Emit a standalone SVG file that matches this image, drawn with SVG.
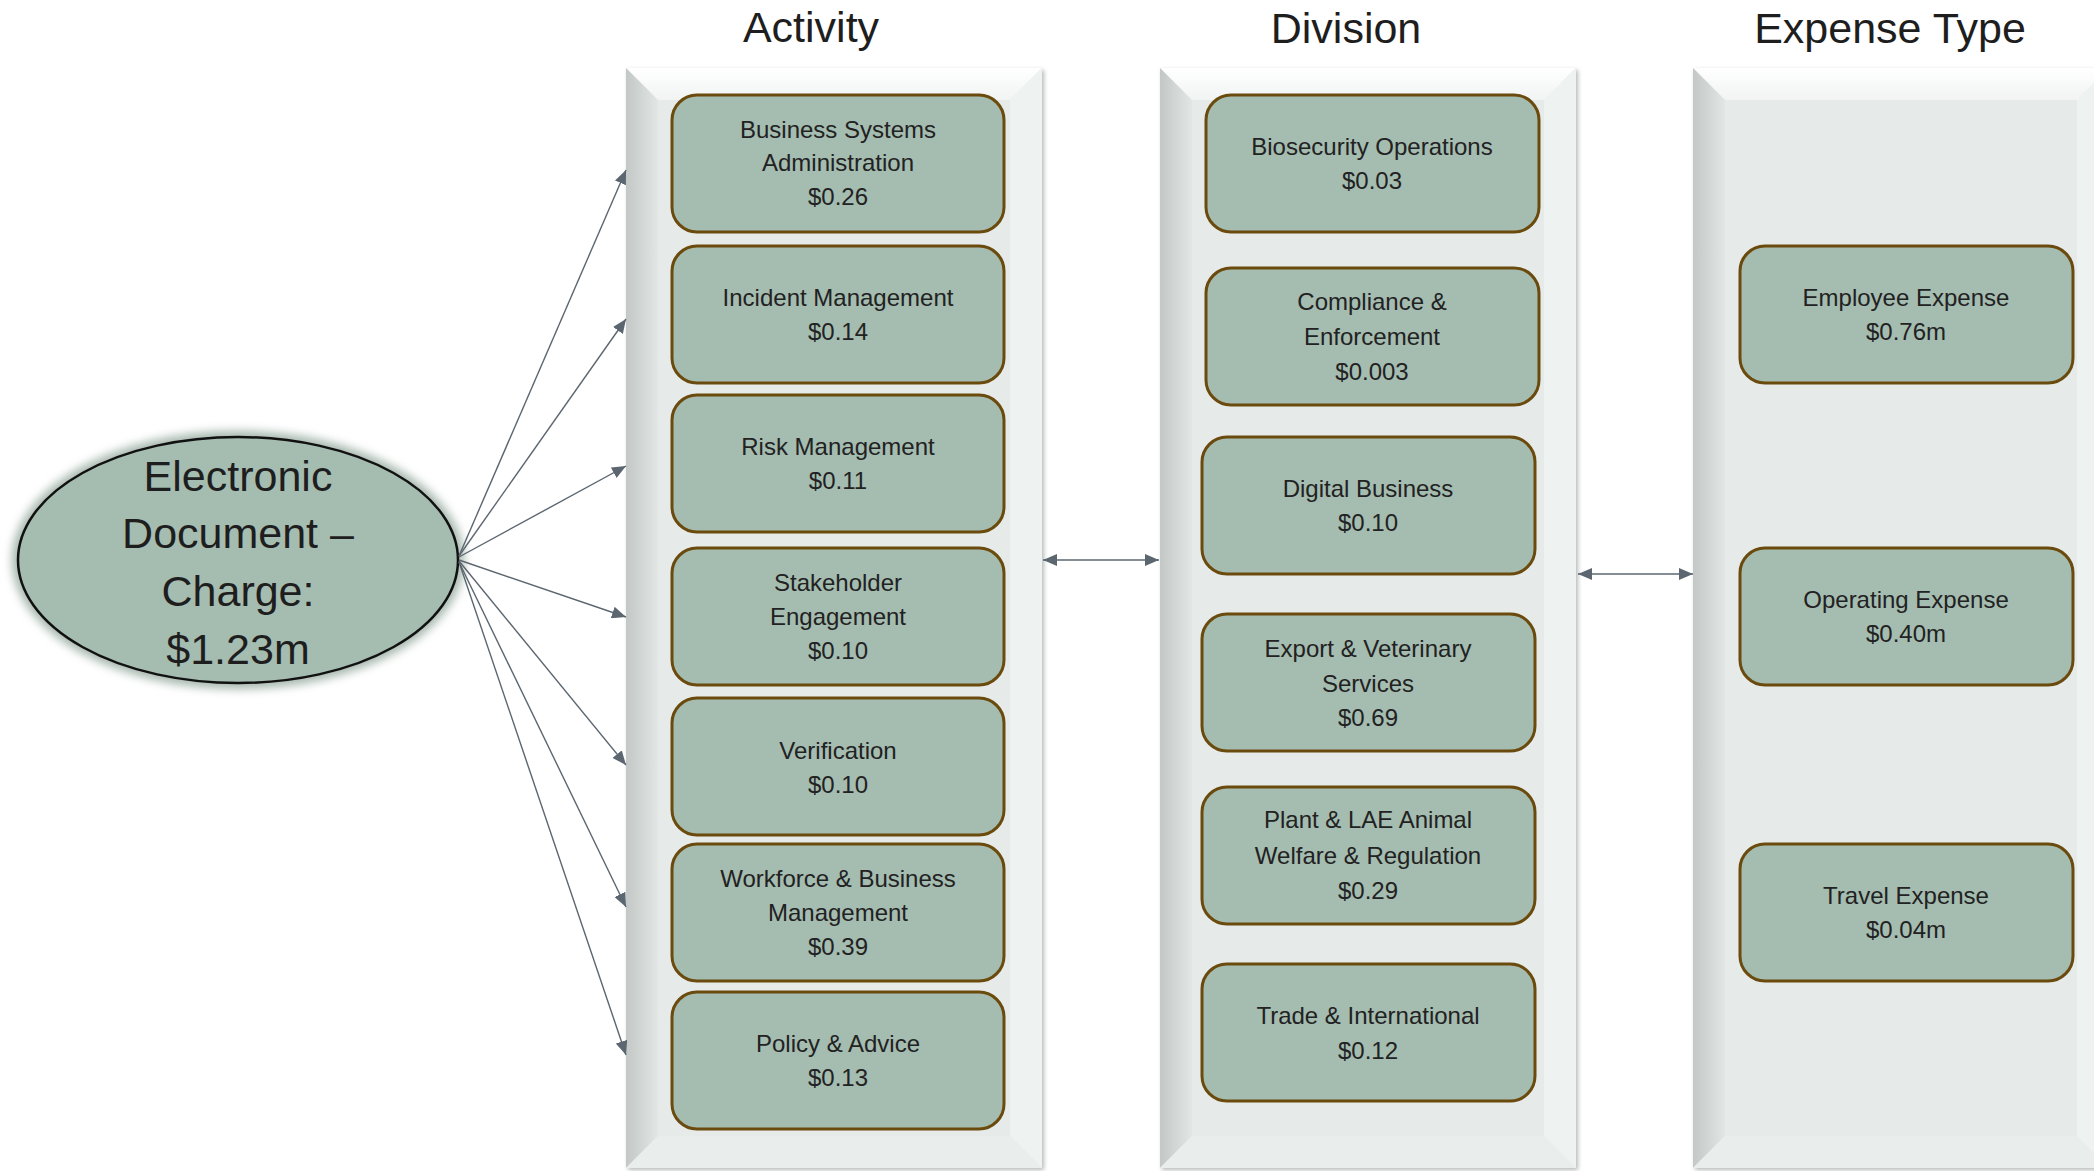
<svg xmlns="http://www.w3.org/2000/svg" width="2094" height="1171" viewBox="0 0 2094 1171">
<defs>
<style>
.hdr{font-family:"Liberation Sans",Arial,sans-serif;font-size:43px;fill:#1e1e1e;text-anchor:middle}
.t{font-family:"Liberation Sans",Arial,sans-serif;font-size:24px;fill:#222;text-anchor:middle}
.big{font-family:"Liberation Sans",Arial,sans-serif;font-size:43px;fill:#1e1e1e;text-anchor:middle}
.box{fill:#a5bcb0;stroke:#6b4a0e;stroke-width:3}
.base{fill:#e6ebe9}
.btop{fill:url(#gTop)}
.bleft{fill:url(#gLeft)}
.bright{fill:#eef2f0}
.bbot{fill:#e9eeec}
.edge{fill:none;stroke:#b9bdbc;stroke-width:2}
.con{stroke:#5b6670;stroke-width:1.4;fill:none}
</style>
<linearGradient id="gTop" x1="0" y1="0" x2="0" y2="1"><stop offset="0" stop-color="#ffffff"/><stop offset="1" stop-color="#f1f4f3"/></linearGradient>
<linearGradient id="gLeft" x1="0" y1="0" x2="1" y2="0"><stop offset="0" stop-color="#c3c8c7"/><stop offset="1" stop-color="#e2e7e5"/></linearGradient>
<marker id="ah" viewBox="0 0 14 12" refX="14" refY="6" markerWidth="14" markerHeight="12" markerUnits="userSpaceOnUse" orient="auto-start-reverse"><path d="M0,0 L14,6 L0,12 Z" fill="#5b6670"/></marker>
<filter id="glow" x="-20%" y="-20%" width="140%" height="140%"><feGaussianBlur stdDeviation="5"/></filter>
<filter id="sh" x="-5%" y="-5%" width="110%" height="110%"><feGaussianBlur stdDeviation="2"/></filter>
</defs>
<rect width="2094" height="1171" fill="#ffffff"/>

<g id="headers">
<text class="hdr" x="811" y="42">Activity</text>
<text class="hdr" x="1346" y="43">Division</text>
<text class="hdr" x="1890" y="43">Expense Type</text>
</g>

<g id="panel-activity">
<rect x="628" y="70" width="416" height="1100" fill="#b5b9b8" filter="url(#sh)"/>
<rect class="base" x="626" y="68" width="416" height="1100"/>
<polygon class="btop" points="626,68 1042,68 1010,100 658,100"/>
<polygon class="bleft" points="626,68 658,100 658,1136 626,1168"/>
<polygon class="bright" points="1042,68 1042,1168 1010,1136 1010,100"/>
<polygon class="bbot" points="626,1168 1042,1168 1010,1136 658,1136"/>
</g>
<g id="panel-division">
<rect x="1162" y="70" width="416" height="1100" fill="#b5b9b8" filter="url(#sh)"/>
<rect class="base" x="1160" y="68" width="416" height="1100"/>
<polygon class="btop" points="1160,68 1576,68 1544,100 1192,100"/>
<polygon class="bleft" points="1160,68 1192,100 1192,1136 1160,1168"/>
<polygon class="bright" points="1576,68 1576,1168 1544,1136 1544,100"/>
<polygon class="bbot" points="1160,1168 1576,1168 1544,1136 1192,1136"/>
</g>
<g id="panel-expense">
<rect x="1695" y="70" width="416" height="1100" fill="#b5b9b8" filter="url(#sh)"/>
<rect class="base" x="1693" y="68" width="416" height="1100"/>
<polygon class="btop" points="1693,68 2109,68 2077,100 1725,100"/>
<polygon class="bleft" points="1693,68 1725,100 1725,1136 1693,1168"/>
<polygon class="bright" points="2109,68 2109,1168 2077,1136 2077,100"/>
<polygon class="bbot" points="1693,1168 2109,1168 2077,1136 1725,1136"/>
</g>

<g id="source">
<ellipse cx="238" cy="560" rx="226" ry="129" fill="#8ea497" opacity="0.8" filter="url(#glow)"/>
<ellipse cx="238" cy="560" rx="220" ry="123" fill="#a5bcb0" stroke="#111" stroke-width="2.5"/>
<text class="big" x="238" y="491">Electronic</text>
<text class="big" x="238" y="548">Document –</text>
<text class="big" x="238" y="606">Charge:</text>
<text class="big" x="238" y="664">$1.23m</text>
</g>

<g id="connectors">
<line class="con" x1="459" y1="556" x2="626" y2="170" marker-end="url(#ah)"/>
<line class="con" x1="459" y1="556" x2="626" y2="319" marker-end="url(#ah)"/>
<line class="con" x1="459" y1="557" x2="626" y2="466" marker-end="url(#ah)"/>
<line class="con" x1="459" y1="560" x2="626" y2="617" marker-end="url(#ah)"/>
<line class="con" x1="459" y1="561" x2="626" y2="765" marker-end="url(#ah)"/>
<line class="con" x1="459" y1="562" x2="626" y2="907" marker-end="url(#ah)"/>
<line class="con" x1="459" y1="562" x2="626" y2="1055" marker-end="url(#ah)"/>
<line class="con" x1="1043" y1="560" x2="1159" y2="560" marker-start="url(#ah)" marker-end="url(#ah)"/>
<line class="con" x1="1578" y1="574" x2="1693" y2="574" marker-start="url(#ah)" marker-end="url(#ah)"/>
</g>

<g id="act-1"><rect class="box" x="672" y="95" width="332" height="137" rx="25"/><text class="t" x="838" y="138">Business Systems</text><text class="t" x="838" y="171">Administration</text><text class="t" x="838" y="205">$0.26</text></g>
<g id="act-2"><rect class="box" x="672" y="246" width="332" height="137" rx="25"/><text class="t" x="838" y="306">Incident Management</text><text class="t" x="838" y="340">$0.14</text></g>
<g id="act-3"><rect class="box" x="672" y="395" width="332" height="137" rx="25"/><text class="t" x="838" y="455">Risk Management</text><text class="t" x="838" y="489">$0.11</text></g>
<g id="act-4"><rect class="box" x="672" y="548" width="332" height="137" rx="25"/><text class="t" x="838" y="591">Stakeholder</text><text class="t" x="838" y="625">Engagement</text><text class="t" x="838" y="659">$0.10</text></g>
<g id="act-5"><rect class="box" x="672" y="698" width="332" height="137" rx="25"/><text class="t" x="838" y="759">Verification</text><text class="t" x="838" y="793">$0.10</text></g>
<g id="act-6"><rect class="box" x="672" y="844" width="332" height="137" rx="25"/><text class="t" x="838" y="887">Workforce &amp; Business</text><text class="t" x="838" y="921">Management</text><text class="t" x="838" y="955">$0.39</text></g>
<g id="act-7"><rect class="box" x="672" y="992" width="332" height="137" rx="25"/><text class="t" x="838" y="1052">Policy &amp; Advice</text><text class="t" x="838" y="1086">$0.13</text></g>

<g id="div-1"><rect class="box" x="1206" y="95" width="333" height="137" rx="25"/><text class="t" x="1372" y="155">Biosecurity Operations</text><text class="t" x="1372" y="189">$0.03</text></g>
<g id="div-2"><rect class="box" x="1206" y="268" width="333" height="137" rx="25"/><text class="t" x="1372" y="310">Compliance &amp;</text><text class="t" x="1372" y="345">Enforcement</text><text class="t" x="1372" y="380">$0.003</text></g>
<g id="div-3"><rect class="box" x="1202" y="437" width="333" height="137" rx="25"/><text class="t" x="1368" y="497">Digital Business</text><text class="t" x="1368" y="531">$0.10</text></g>
<g id="div-4"><rect class="box" x="1202" y="614" width="333" height="137" rx="25"/><text class="t" x="1368" y="657">Export &amp; Veterinary</text><text class="t" x="1368" y="692">Services</text><text class="t" x="1368" y="726">$0.69</text></g>
<g id="div-5"><rect class="box" x="1202" y="787" width="333" height="137" rx="25"/><text class="t" x="1368" y="828">Plant &amp; LAE Animal</text><text class="t" x="1368" y="864">Welfare &amp; Regulation</text><text class="t" x="1368" y="899">$0.29</text></g>
<g id="div-6"><rect class="box" x="1202" y="964" width="333" height="137" rx="25"/><text class="t" x="1368" y="1024">Trade &amp; International</text><text class="t" x="1368" y="1059">$0.12</text></g>

<g id="exp-1"><rect class="box" x="1740" y="246" width="333" height="137" rx="25"/><text class="t" x="1906" y="306">Employee Expense</text><text class="t" x="1906" y="340">$0.76m</text></g>
<g id="exp-2"><rect class="box" x="1740" y="548" width="333" height="137" rx="25"/><text class="t" x="1906" y="608">Operating Expense</text><text class="t" x="1906" y="642">$0.40m</text></g>
<g id="exp-3"><rect class="box" x="1740" y="844" width="333" height="137" rx="25"/><text class="t" x="1906" y="904">Travel Expense</text><text class="t" x="1906" y="938">$0.04m</text></g>
</svg>
